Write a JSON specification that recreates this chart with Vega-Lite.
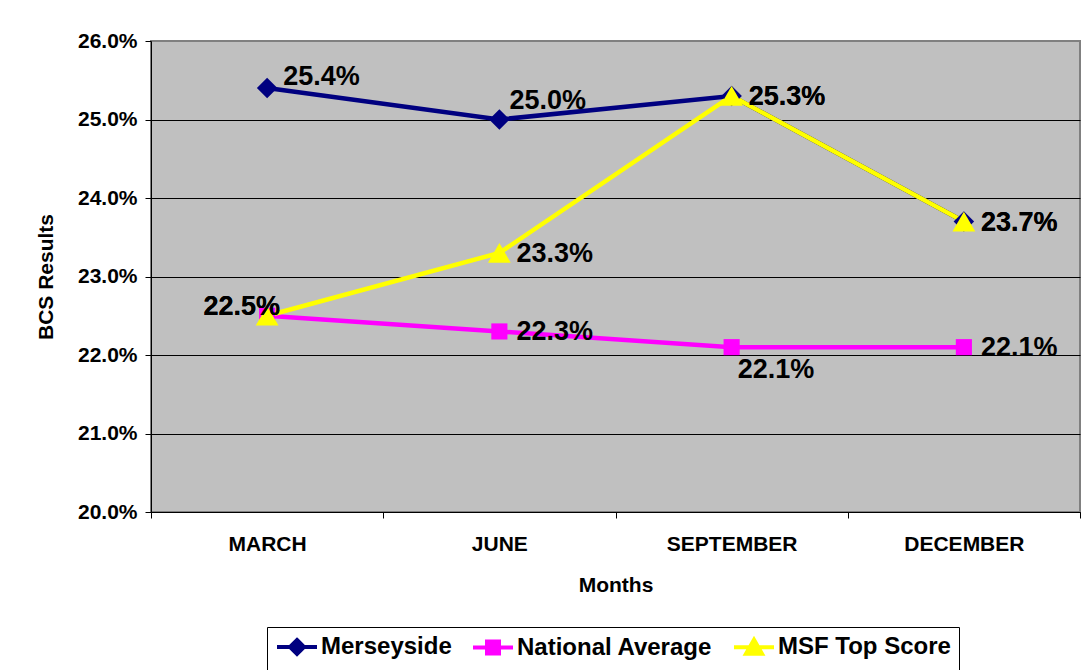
{
  "$schema": "https://vega.github.io/schema/vega-lite/v6.json",
  "width": 929,
  "height": 471,
  "autosize": {"type": "none"},
  "padding": {"left": 151, "top": 41, "right": 6, "bottom": 158},
  "background": "white",
  "config": {
    "font": "Liberation Sans",
    "view": {"fill": "#C0C0C0", "stroke": "#808080", "strokeWidth": 2},
    "axis": {"labelFont": "Liberation Sans", "titleFont": "Liberation Sans", "labelFontWeight": "bold", "titleFontWeight": "bold", "labelColor": "black", "titleColor": "black", "domainColor": "black", "tickColor": "black", "tickSize": 6}
  },
  "data": {
    "values": [
      {"month": "MARCH", "series": "Merseyside", "value": 0.254},
      {"month": "JUNE", "series": "Merseyside", "value": 0.250},
      {"month": "SEPTEMBER", "series": "Merseyside", "value": 0.253},
      {"month": "DECEMBER", "series": "Merseyside", "value": 0.237},
      {"month": "MARCH", "series": "National Average", "value": 0.225},
      {"month": "JUNE", "series": "National Average", "value": 0.223},
      {"month": "SEPTEMBER", "series": "National Average", "value": 0.221},
      {"month": "DECEMBER", "series": "National Average", "value": 0.221},
      {"month": "MARCH", "series": "MSF Top Score", "value": 0.225},
      {"month": "JUNE", "series": "MSF Top Score", "value": 0.233},
      {"month": "SEPTEMBER", "series": "MSF Top Score", "value": 0.253},
      {"month": "DECEMBER", "series": "MSF Top Score", "value": 0.237}
    ]
  },
  "encoding": {
    "x": {
      "field": "month", "type": "nominal", "bandPosition": 0.5,
      "sort": ["MARCH", "JUNE", "SEPTEMBER", "DECEMBER"],
      "scale": {"type": "band", "paddingInner": 0, "paddingOuter": 0},
      "axis": {"title": "Months", "labelAngle": 0, "tickBand": "extent", "labelFontSize": 21, "titleFontSize": 21, "labelPadding": 15, "titlePadding": 20, "grid": false}
    },
    "y": {
      "field": "value", "type": "quantitative",
      "scale": {"domain": [0.2, 0.26], "nice": false, "zero": false},
      "axis": {"title": "BCS Results", "format": ".1%", "values": [0.2, 0.21, 0.22, 0.23, 0.24, 0.25, 0.26], "labelFontSize": 21, "titleFontSize": 21, "labelPadding": 8, "titlePadding": 21, "grid": true, "gridColor": {"condition": {"test": "datum.value > 0.2595", "value": "#808080"}, "value": "black"}, "gridOpacity": 1}
    },
    "color": {
      "field": "series", "type": "nominal",
      "scale": {"domain": ["Merseyside", "National Average", "MSF Top Score"], "range": ["#000080", "#FF00FF", "#FFFF00"]},
      "legend": {
        "orient": "none", "legendX": 116, "legendY": 586, "direction": "horizontal", "title": null,
        "strokeColor": "black", "fillColor": "white", "padding": 8,
        "labelFont": "Liberation Sans", "labelFontWeight": "bold", "labelFontSize": 24, "labelColor": "black", "labelLimit": 500,
        "symbolType": {"expr": "datum.value === 'Merseyside' ? 'M-1,0L3,0M1,-0.7L1.7,0L1,0.7L0.3,0Z' : datum.value === 'National Average' ? 'M-1,0L3,0M0.4,-0.6L1.6,-0.6L1.6,0.6L0.4,0.6Z' : 'M-1,0L3,0M1,-0.75L1.8,0.65L0.2,0.65Z'"},
        "symbolSize": 400, "symbolStrokeWidth": 4, "columnPadding": 13, "labelOffset": 22,
        "encode": {
          "symbols": {
            "update": {
              "fill": {"value": {"expr": "scale('color', datum.value)"}},
              "stroke": {"value": {"expr": "scale('color', datum.value)"}},
              "opacity": {"value": 1}
            }
          }
        }
      }
    }
  },
  "layer": [
    {
      "mark": {"type": "line", "strokeWidth": 4.5}
    },
    {
      "transform": [{"filter": "datum.series == 'Merseyside'"}],
      "mark": {"type": "point", "filled": true, "opacity": 1, "shape": "diamond", "size": 420}
    },
    {
      "transform": [{"filter": "datum.series == 'National Average'"}],
      "mark": {"type": "point", "filled": true, "opacity": 1, "shape": "square", "size": 260}
    },
    {
      "transform": [{"filter": "datum.series == 'MSF Top Score'"}],
      "mark": {"type": "point", "filled": true, "opacity": 1, "shape": "triangle-up", "size": 520}
    },
    {
      "transform": [{"filter": "!(datum.month == 'MARCH' || (datum.series == 'Merseyside' && datum.month == 'JUNE') || (datum.series == 'National Average' && datum.month == 'SEPTEMBER'))"}],
      "mark": {"type": "text", "align": "left", "baseline": "middle", "dx": 17, "dy": 1, "fontSize": 27, "fontWeight": "bold"},
      "encoding": {"text": {"field": "value", "type": "quantitative", "format": ".1%"}, "color": {"value": "black"}}
    },
    {
      "transform": [{"filter": "datum.month == 'MARCH' && datum.series == 'Merseyside'"}],
      "mark": {"type": "text", "align": "left", "baseline": "middle", "dx": 16, "dy": -11, "fontSize": 27, "fontWeight": "bold"},
      "encoding": {"text": {"field": "value", "type": "quantitative", "format": ".1%"}, "color": {"value": "black"}}
    },
    {
      "transform": [{"filter": "datum.month == 'JUNE' && datum.series == 'Merseyside'"}],
      "mark": {"type": "text", "align": "left", "baseline": "middle", "dx": 10, "dy": -19, "fontSize": 27, "fontWeight": "bold"},
      "encoding": {"text": {"field": "value", "type": "quantitative", "format": ".1%"}, "color": {"value": "black"}}
    },
    {
      "transform": [{"filter": "datum.month == 'MARCH' && datum.series != 'Merseyside'"}],
      "mark": {"type": "text", "align": "right", "baseline": "middle", "dx": 13, "dy": -9, "fontSize": 27, "fontWeight": "bold"},
      "encoding": {"text": {"field": "value", "type": "quantitative", "format": ".1%"}, "color": {"value": "black"}}
    },
    {
      "transform": [{"filter": "datum.month == 'SEPTEMBER' && datum.series == 'National Average'"}],
      "mark": {"type": "text", "align": "left", "baseline": "middle", "dx": 6, "dy": 23, "fontSize": 27, "fontWeight": "bold"},
      "encoding": {"text": {"field": "value", "type": "quantitative", "format": ".1%"}, "color": {"value": "black"}}
    }
  ]
}
